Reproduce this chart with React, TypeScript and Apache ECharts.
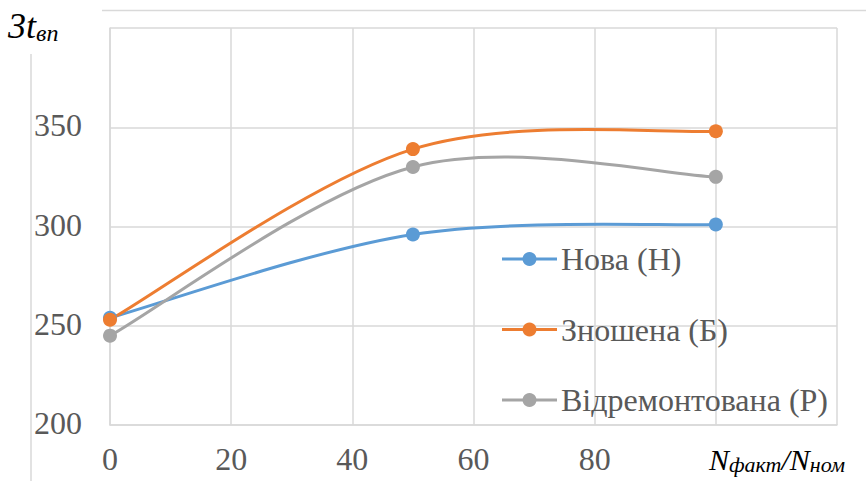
import React, { useEffect, useRef } from "react";
import * as echarts from "echarts";

const xValues = [0, 50, 100];
const seriesNames = ["Нова (Н)", "Зношена (Б)", "Відремонтована (Р)"];
const novaValues = [254, 296, 301];
const znoshenaValues = [253, 339, 348];
const vidremValues = [245, 330, 325];
const seriesColors = ["#5B9BD5", "#ED7D31", "#A5A5A5"];
const yTicks = [200, 250, 300, 350];
const xTicks = [0, 20, 40, 60, 80];

const FONT = "Liberation Serif";
const LABEL_COLOR = "#595959";
const GRID_COLOR = "#D9D9D9";
const LABEL_SIZE = 32;
const DIGIT_W = LABEL_SIZE / 2;

export default function App() {
  const ref = useRef<HTMLDivElement>(null);
  useEffect(() => {
    if (!ref.current) return;
    const chart = echarts.init(ref.current, undefined, { renderer: "svg" });
    const allValues = [novaValues, znoshenaValues, vidremValues];

    // Excel-style smoothed curve (Bezier, tension 1/6) built from api.coord pixels
    const makeRenderItem = (values: number[], color: string) => (params: any, api: any) => {
      const pts = xValues.map((x, j) => api.coord([x, values[j]]));
      const n = pts.length;
      const children: any[] = [];
      for (let i = 0; i < n - 1; i++) {
        const p0 = pts[Math.max(i - 1, 0)];
        const p1 = pts[i];
        const p2 = pts[i + 1];
        const p3 = pts[Math.min(i + 2, n - 1)];
        children.push({
          type: "bezierCurve",
          shape: {
            x1: p1[0],
            y1: p1[1],
            cpx1: p1[0] + (p2[0] - p0[0]) / 6,
            cpy1: p1[1] + (p2[1] - p0[1]) / 6,
            cpx2: p2[0] - (p3[0] - p1[0]) / 6,
            cpy2: p2[1] - (p3[1] - p1[1]) / 6,
            x2: p2[0],
            y2: p2[1],
          },
          style: { stroke: color, lineWidth: 3, fill: null, lineCap: "round" },
        });
      }
      return { type: "group", children };
    };

    const curveSeries = seriesNames.map((name, i) => ({
      name: name + " curve",
      type: "custom",
      silent: true,
      z: 2,
      clip: false,
      encode: { x: 0, y: 1 },
      data: [[xValues[0], allValues[i][0]]],
      renderItem: makeRenderItem(allValues[i], seriesColors[i]),
    }));

    const markerSeries = seriesNames.map((name, i) => ({
      name,
      type: "scatter",
      z: 3,
      symbol: "circle",
      symbolSize: 14,
      itemStyle: { color: seriesColors[i], opacity: 1 },
      data: xValues.map((x, j) => [x, allValues[i][j]]),
    }));

    chart.setOption({
      animation: false,
      backgroundColor: "#ffffff",
      grid: { left: 110, right: 29, top: 28, bottom: 56, containLabel: false },
      xAxis: {
        type: "value",
        min: 0,
        max: 120,
        interval: 20,
        axisLine: { show: true, lineStyle: { color: GRID_COLOR, width: 1.5 } },
        axisTick: { show: false },
        splitLine: { show: true, lineStyle: { color: GRID_COLOR, width: 1.5 } },
        axisLabel: { show: false },
      },
      yAxis: {
        type: "value",
        min: 200,
        max: 400,
        interval: 50,
        axisLine: { show: true, lineStyle: { color: GRID_COLOR, width: 1.5 } },
        axisTick: { show: false },
        splitLine: { show: true, lineStyle: { color: GRID_COLOR, width: 1.5 } },
        axisLabel: { show: false },
      },
      series: [...curveSeries, ...markerSeries],
    });

    const serifText = (text: string, left: number, top: number) => ({
      type: "text",
      left,
      top,
      style: {
        text: `{s|${text}}`,
        fontFamily: FONT,
        rich: {
          s: { fontFamily: FONT, fontSize: LABEL_SIZE, fill: LABEL_COLOR },
        },
      },
    });

    const graphics: any[] = [
      {
        type: "line",
        shape: { x1: 102, y1: 10.5, x2: 866, y2: 10.5 },
        style: { stroke: GRID_COLOR, lineWidth: 1.5 },
      },
      {
        type: "line",
        shape: { x1: 31, y1: 54, x2: 31, y2: 481 },
        style: { stroke: GRID_COLOR, lineWidth: 1.5 },
      },
    ];

    // Tick labels placed through the chart's own axis scales
    yTicks.forEach((v) => {
      const [px, py] = chart.convertToPixel({ gridIndex: 0 }, [0, v]) as number[];
      const label = String(v);
      graphics.push(serifText(label, px - 28 - label.length * DIGIT_W, py - 18));
    });
    xTicks.forEach((v) => {
      const [px, py] = chart.convertToPixel({ gridIndex: 0 }, [v, 200]) as number[];
      const label = String(v);
      graphics.push(serifText(label, px - (label.length * DIGIT_W) / 2, py + 18));
    });

    // Legend (line + marker + serif label)
    seriesNames.forEach((name, k) => {
      const cy = 259 + 70.5 * k;
      graphics.push({
        type: "line",
        shape: { x1: 502, y1: cy, x2: 557, y2: cy },
        style: { stroke: seriesColors[k], lineWidth: 3 },
      });
      graphics.push({
        type: "circle",
        shape: { cx: 529.5, cy, r: 7 },
        style: { fill: seriesColors[k] },
      });
      graphics.push(serifText(name, 561, cy - 16));
    });

    graphics.push({
      type: "text",
      left: 8,
      top: 8,
      style: {
        text: "{a|3t}{b|вп}",
        fontFamily: FONT,
        rich: {
          a: { fontFamily: FONT, fontStyle: "italic", fontSize: 36, fill: "#000" },
          b: { fontFamily: FONT, fontStyle: "italic", fontSize: 24, fill: "#000", padding: [14, 0, 0, 0] },
        },
      },
    });
    graphics.push({
      type: "text",
      left: 709,
      top: 444,
      style: {
        text: "{a|N}{b|факт}{a|/N}{b|ном}",
        fontFamily: FONT,
        rich: {
          a: { fontFamily: FONT, fontStyle: "italic", fontSize: 30, fill: "#000" },
          b: { fontFamily: FONT, fontStyle: "italic", fontSize: 22, fill: "#000", padding: [10, 0, 0, 0] },
        },
      },
    });

    chart.setOption({ graphic: graphics });
    return () => chart.dispose();
  }, []);
  return <div ref={ref} style={{ width: 866, height: 481, position: "absolute", left: 0, top: 0 }} />;
}
